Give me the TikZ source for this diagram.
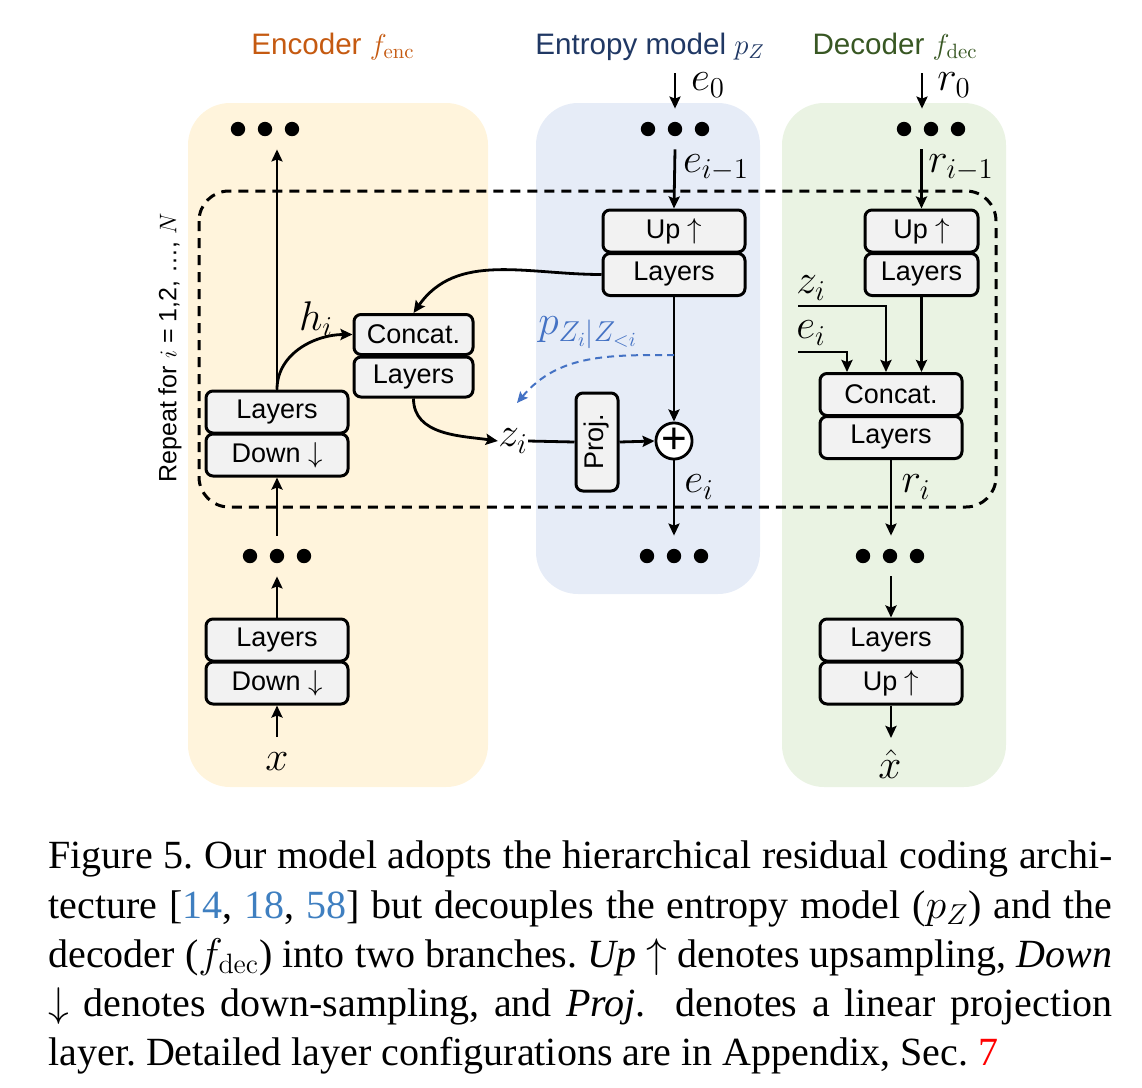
\documentclass[tikz,border=0pt]{standalone}
\usepackage{fontspec}
\setsansfont{Liberation Sans}
\newfontfamily\capfont{Liberation Serif}
\usetikzlibrary{arrows.meta,calc}
\definecolor{encbg}{HTML}{FFF4DC}
\definecolor{entbg}{HTML}{E6ECF7}
\definecolor{decbg}{HTML}{EAF3E3}
\definecolor{boxgray}{HTML}{F2F2F2}
\definecolor{encc}{HTML}{C55A11}
\definecolor{entc}{HTML}{203864}
\definecolor{decc}{HTML}{385723}
\definecolor{pblue}{HTML}{4472C4}
\definecolor{citec}{HTML}{3F7FC0}
\newcommand\DotRow[1]{\foreach \dx in {-27,0,27} {\fill ($(#1)+(\dx,0)$) circle (3.6pt);}}
\begin{document}
\begin{tikzpicture}[x=0.5pt,y=-0.5pt,
  blk/.style={draw, line width=1.5pt, fill=boxgray, rounded corners=3.5pt,
    minimum width=71pt, minimum height=21pt, inner sep=0pt,
    font=\sffamily\fontsize{13.5}{15}\selectfont},
  arr/.style={line width=1.4pt, -{Stealth[length=6pt,width=5.5pt,inset=1pt]}},
  ln/.style={line width=1.4pt},
  lbl/.style={inner sep=0pt, font=\fontsize{21}{24}\selectfont},
  dotsn/.style={minimum width=34pt, minimum height=20pt, inner sep=0pt},
  title/.style={anchor=base, inner sep=0pt, font=\sffamily\fontsize{14.8}{17}\selectfont},
  capline/.style={anchor=base west, inner sep=0pt, font=\capfont\fontsize{20}{24}\selectfont}
]
\useasboundingbox (0,0) rectangle (1142,1088);

% panels
\fill[encbg, rounded corners=21pt] (188,103) rectangle (488,787);
\fill[entbg, rounded corners=21pt] (536,103) rectangle (760,594);
\fill[decbg, rounded corners=21pt] (782,103) rectangle (1006,787);

% titles
\node[title, text=encc] (tEnc) at (333,54) {Encoder $f_{\mathrm{enc}}$};
\node[title, text=entc] (tEnt) at (650,54) {Entropy model $p_Z$};
\node[title, text=decc] (tDec) at (895,54) {Decoder $f_{\mathrm{dec}}$};

% repeat loop
\draw[line width=1.5pt, dash pattern=on 5pt off 3.5pt, rounded corners=15pt] (199,191) rectangle (996,507);
\node[rotate=90, inner sep=0pt, font=\sffamily\fontsize{12.5}{15}\selectfont] (rep) at (170,348) {Repeat for $i$ = 1,2, …, $N$};

% ---------- encoder ----------
\node[dotsn] (eTop) at (265,129) {}; \DotRow{eTop}
\node[blk] (eL1) at (277,412) {Layers};
\node[blk] (eD1) at (277,455) {Down $\downarrow$};
\node[dotsn] (eMid) at (277,556) {}; \DotRow{eMid}
\node[blk] (eL2) at (277,640) {Layers};
\node[blk] (eD2) at (277,683) {Down $\downarrow$};
\node[lbl] (xin) at (277,762) {$x$};
\coordinate (xs) at (277,737);

\node[blk, minimum width=59.5pt, minimum height=20pt] (cC) at (413.5,334.5) {Concat.};
\node[blk, minimum width=59.5pt, minimum height=20pt] (cL) at (413.5,377) {Layers};
\node[lbl] (hi) at (316,319) {$h_i$};

\draw[arr] (xs) -- (eD2.south);
\draw[arr] (eL2.north) -- (eMid.south);
\draw[arr] (eMid.north) -- (eD1.south);
\draw[arr] (eL1.north) -- (eL1.north |- eTop.south);
\draw[arr] (eL1.north) to[out=90,in=180] (cC.west);

% ---------- entropy model ----------
\coordinate (e0s) at (675,73);
\node[dotsn] (pTop) at (675,129) {}; \DotRow{pTop}
\node[lbl] (e0) at (708,85) {$e_0$};
\node[blk] (pU) at (674,231) {Up $\uparrow$};
\node[blk] (pL) at (674,274.5) {Layers};
\node[lbl] (eim1) at (716,168) {$e_{i-1}$};
\node[lbl] (zi) at (513,441) {$z_i$};
\node[draw, line width=1.5pt, fill=boxgray, rounded corners=3.5pt, rotate=90,
  minimum width=49pt, minimum height=21pt, inner sep=0pt,
  font=\sffamily\fontsize{13.5}{15}\selectfont] (proj) at (597,442) {Proj.};
\node[circle, draw, line width=1.4pt, fill=white, minimum size=17pt, inner sep=0pt,
  font=\sffamily\fontsize{22}{22}\selectfont] (plus) at (674,441) {+};
\node[lbl] (ei) at (699,487) {$e_i$};
\node[dotsn] (pBot) at (674,556) {}; \DotRow{pBot}
\node[lbl, text=pblue, font=\fontsize{20}{24}\selectfont] (pz) at (588,333) {$p_{Z_i|Z_{<i}}$};
\coordinate (pzs) at (674,355);
\coordinate (pze) at (517,403);

\draw[arr] (e0s) -- (pTop.north);
\draw[arr] (pTop.south) -- (pU.north);
\draw[arr] (pL.south) -- (plus.north);
\draw[arr] (pL.west) to[out=180,in=55] (cC.north);
\draw[arr] (cL.south) to[out=-90,in=172] (zi.west);
\draw[ln] (zi.east) -- (proj.north);
\draw[arr] (proj.south) -- (plus.west);
\draw[arr] (plus.south) -- (pBot.north);
\draw[line width=1pt, pblue, dash pattern=on 3.5pt off 2.5pt,
  -{Stealth[length=5.5pt,width=5pt,inset=1pt]}] (pzs) to[out=180,in=50] (pze);

% ---------- decoder ----------
\coordinate (r0s) at (922,73);
\node[dotsn] (dTop) at (931,129) {}; \DotRow{dTop}
\node[lbl] (r0) at (954,85) {$r_0$};
\node[blk, minimum width=56.5pt] (dU) at (921.5,231) {Up $\uparrow$};
\node[blk, minimum width=56.5pt] (dL) at (921.5,274.5) {Layers};
\node[lbl] (rim1) at (961,168) {$r_{i-1}$};
\node[blk] (dC) at (891,394.5) {Concat.};
\node[blk] (dCL) at (891,437.5) {Layers};
\node[lbl] (dzi) at (811,288) {$z_i$};
\node[lbl] (dei) at (811,333) {$e_i$};
\coordinate (dzs) at (798,306);
\coordinate (des) at (798,352);
\node[lbl] (ri) at (916,487) {$r_i$};
\node[dotsn] (dMid) at (890,556) {}; \DotRow{dMid}
\node[blk] (dL2) at (891,640) {Layers};
\node[blk] (dU2) at (891,683) {Up $\uparrow$};
\node[lbl] (xhat) at (890,764) {$\hat{x}$};
\coordinate (xhe) at (891,738);

\draw[arr] (r0s) -- (r0s |- dTop.north);
\draw[arr] (dTop.south -| dU.north) -- (dU.north);
\draw[arr] (dL.south) -- (dL.south |- dC.north);
\draw[arr] (dzs) -| ($(dC.north)+(-5,0)$);
\draw[arr] (des) -| ($(dC.north)+(-44,0)$);
\draw[arr] (dCL.south) -- (dCL.south |- dMid.north);
\draw[arr] (dL2.north |- dMid.south) -- (dL2.north);
\draw[arr] (dU2.south) -- (xhe);

% ---------- caption ----------
\node[capline] (cap1) at (48,868) {\frenchspacing\makebox[532pt][s]{Figure 5. Our model adopts the hierarchical residual coding archi-}};
\node[capline] (cap2) at (48,918) {\frenchspacing\makebox[532pt][s]{tecture [{\color{citec}14}, {\color{citec}18}, {\color{citec}58}] but decouples the entropy model ($p_Z$) and the}};
\node[capline] (cap3) at (48,967) {\frenchspacing\makebox[532pt][s]{decoder ($f_{\mathrm{dec}}$) into two branches. \textit{Up} $\uparrow$ denotes upsampling, \textit{Down}}};
\node[capline] (cap4) at (48,1016) {\frenchspacing\makebox[532pt][s]{$\downarrow$ denotes down-sampling, and \textit{Proj.}\ \ denotes a linear projection}};
\node[capline] (cap5) at (48,1065) {\frenchspacing layer. Detailed layer configurations are in Appendix, Sec. {\color{red}7}};
\end{tikzpicture}
\end{document}
